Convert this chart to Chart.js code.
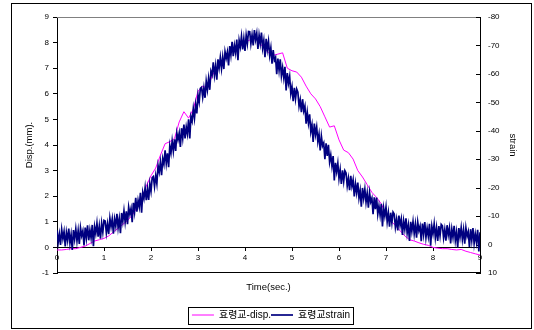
<!DOCTYPE html>
<html lang="ko">
<head>
<meta charset="UTF-8" />
<title>효령교 disp / strain</title>
<script src="https://cdn.jsdelivr.net/npm/chart.js@4.4.0/dist/chart.umd.min.js"></script>
<style>
  html, body { margin: 0; padding: 0; background: #fff; }
</style>
</head>
<body>
<canvas id="myChart" width="534" height="330"></canvas>
<script>
// displacement (mm), sampled every 0.1 s from 0 to 9 s
const DISP_DT = 0.1;
const dispValues = [
  -0.1, -0.1, -0.08, -0.05, -0.05, 0.0, 0.05, 0.15, 0.25, 0.3,
  0.35, 0.45, 0.6, 0.75, 0.9, 1.05, 1.25, 1.55, 1.9, 2.4,
  2.8, 3.1, 3.6, 4.05, 4.13, 4.25, 4.9, 5.3, 5.05, 5.4,
  6.1, 6.3, 6.2, 6.7, 7.0, 7.25, 7.4, 7.6, 7.75, 7.85,
  8.0, 8.1, 8.2, 8.0, 7.8, 7.6, 7.5, 7.55, 7.6, 7.0,
  6.9, 6.85, 6.65, 6.3, 6.0, 5.8, 5.5, 5.1, 4.7, 4.75,
  4.2, 3.8, 3.7, 3.45, 3.0, 2.75, 2.45, 2.15, 1.95, 1.7,
  1.3, 1.05, 0.85, 0.65, 0.45, 0.3, 0.25, 0.18, 0.12, 0.08,
  0.0, -0.03, -0.05, -0.05, -0.08, -0.1, -0.08, -0.15, -0.2, -0.25, -0.3
];

// strain, sampled every 0.025 s from 0 to 9 s (noisy gauge signal)
const STRAIN_DT = 0.025;
const strainValues = [
  -5.0, -0.7, -3.7, 0.1, -5.3, -2.1, -4.6, 0.7, -4.3, -1.5,
  -5.6, -0.5, -3.5, 1.9, -5.1, -1.9, -5.5, -1.3, -4.9, -0.2,
  -5.9, -3.1, -4.8, 0.3, -6.0, -2.3, -6.8, -1.5, -5.1, -2.3,
  -6.9, 0.6, -6.3, -3.9, -7.5, -2.8, -6.5, -2.1, -7.5, -4.3,
  -8.5, -8.3, -4.1, -7.3, -3.7, -9.3, -6.3, -9.0, -3.8, -9.0,
  -6.5, -10.8, -5.9, -9.1, -4.0, -11.1, -8.1, -11.9, -7.9, -11.7,
  -7.2, -13.2, -10.7, -12.7, -7.9, -14.7, -11.4, -16.4, -11.6, -15.5,
  -13.2, -18.2, -11.2, -18.3, -16.2, -20.0, -15.6, -19.6, -15.7, -21.4,
  -18.7, -23.5, -23.9, -20.4, -24.2, -21.4, -27.8, -25.5, -29.0, -24.4,
  -30.2, -28.2, -33.1, -28.5, -32.1, -27.2, -34.7, -32.2, -36.4, -32.8,
  -37.0, -32.9, -39.2, -36.9, -39.2, -34.3, -40.9, -37.4, -42.2, -37.3,
  -41.3, -38.9, -44.0, -37.3, -45.0, -43.4, -47.8, -44.4, -49.2, -46.1,
  -52.6, -50.1, -54.9, -55.3, -51.8, -55.1, -51.6, -57.4, -54.4, -58.4,
  -54.4, -60.9, -59.6, -64.1, -59.5, -62.9, -58.0, -65.1, -62.1, -65.8,
  -61.9, -65.9, -61.7, -67.8, -65.5, -67.7, -63.0, -69.8, -66.6, -71.3,
  -66.2, -70.0, -67.4, -72.1, -64.8, -71.8, -69.5, -73.2, -68.6, -72.4,
  -68.1, -73.6, -70.6, -74.9, -74.8, -70.6, -73.7, -70.0, -75.4, -72.0,
  -74.3, -68.8, -73.6, -70.6, -74.5, -69.1, -71.8, -65.9, -72.3, -68.5,
  -71.5, -66.5, -69.2, -63.6, -68.4, -64.8, -65.8, -59.9, -65.4, -61.2,
  -65.1, -59.3, -62.2, -58.6, -62.5, -54.2, -60.3, -56.7, -59.1, -53.1,
  -55.5, -50.4, -55.1, -51.2, -54.7, -53.6, -48.6, -50.9, -46.5, -51.1,
  -47.0, -48.7, -42.5, -46.5, -42.7, -45.8, -39.7, -42.1, -36.1, -42.5,
  -38.7, -41.3, -36.2, -38.8, -33.1, -38.1, -34.7, -35.7, -30.0, -35.6,
  -31.2, -35.1, -29.1, -31.5, -27.6, -31.1, -22.5, -28.7, -25.6, -28.6,
  -23.2, -26.3, -21.3, -26.1, -22.3, -26.0, -25.2, -20.6, -23.3, -19.1,
  -24.2, -20.5, -22.7, -16.9, -21.4, -18.2, -21.8, -16.4, -19.0, -13.3,
  -19.9, -16.3, -19.5, -14.9, -18.1, -13.0, -18.2, -15.0, -16.3, -10.7,
  -16.6, -12.4, -16.5, -10.7, -13.6, -10.3, -14.3, -6.4, -12.8, -10.0,
  -13.2, -8.0, -11.2, -6.3, -11.2, -7.6, -11.4, -10.7, -6.1, -8.9,
  -5.0, -10.2, -6.7, -9.0, -3.4, -8.3, -5.3, -9.2, -4.0, -6.8,
  -1.3, -8.0, -4.7, -8.1, -3.8, -7.2, -2.4, -7.9, -4.9, -6.5,
  -1.2, -7.4, -3.6, -7.9, -2.5, -5.8, -2.9, -7.3, 0.4, -6.4,
  -3.8, -7.3, -2.4, -5.9, -1.3, -6.5, -3.1, -7.1, -6.6, -2.3,
  -5.3, -1.4, -6.8, -3.4, -5.9, -0.4, -5.4, -2.5, -6.6, -1.4,
  -4.4, 1.0, -5.8, -2.6, -6.0, -1.8, -5.2, -0.3, -5.9, -2.9,
  -4.5, 0.8, -5.4, -1.5, -5.8, -0.4, -3.7, -0.8, -5.2, 2.4,
  -4.3
];

const seriesLabels = ['효령교-disp.', '효령교strain'];
const timeRange = [0, 9];
const dispRange = [-1, 9];
const strainRange = [-80, 10];

const FONT = '"Liberation Sans", Arial, "Noto Sans CJK KR", sans-serif';

// outer box, plot frame, legend box and the inward ticks of the strain axis
const framePlugin = {
  id: 'frame',
  beforeDraw(chart) {
    const ctx = chart.ctx;
    ctx.save();
    ctx.fillStyle = '#fff';
    ctx.fillRect(0, 0, chart.width, chart.height);
    ctx.strokeStyle = '#000';
    ctx.lineWidth = 1;
    ctx.strokeRect(11.5, 3.5, 520, 325);
    ctx.restore();
  },
  beforeDatasetsDraw(chart) {
    const ctx = chart.ctx;
    const a = chart.chartArea;
    ctx.save();
    ctx.lineWidth = 1;
    ctx.strokeStyle = '#808080';
    ctx.beginPath();
    ctx.moveTo(a.left, Math.round(a.top) + 0.5);
    ctx.lineTo(a.right, Math.round(a.top) + 0.5);
    ctx.stroke();
    ctx.strokeStyle = '#000';
    ctx.beginPath();
    ctx.moveTo(a.left, Math.round(a.bottom) - 0.5);
    ctx.lineTo(a.right, Math.round(a.bottom) - 0.5);
    ctx.stroke();
    // strain axis ticks point into the plot
    const y2 = chart.scales.y2;
    ctx.beginPath();
    y2.ticks.forEach(t => {
      const py = Math.round(y2.getPixelForValue(t.value)) + 0.5;
      ctx.moveTo(a.right - 4, py);
      ctx.lineTo(a.right, py);
    });
    ctx.stroke();
    ctx.restore();
  },
  afterDraw(chart) {
    const boxes = chart.legend.legendHitBoxes;
    if (!boxes || !boxes.length) return;
    const l = Math.min(...boxes.map(b => b.left)) - 4;
    const r = Math.max(...boxes.map(b => b.left + b.width)) + 3;
    const t = Math.min(...boxes.map(b => b.top)) - 3;
    const b = Math.max(...boxes.map(b => b.top + b.height)) + 4;
    const ctx = chart.ctx;
    ctx.save();
    ctx.strokeStyle = '#000';
    ctx.lineWidth = 1;
    ctx.strokeRect(Math.round(l) + 0.5, Math.round(t) + 0.5, Math.round(r - l), Math.round(b - t));
    ctx.restore();
  }
};

const ctx = document.getElementById('myChart').getContext('2d');
const myChart = new Chart(ctx, {
  type: 'line',
  data: {
    datasets: [
      {
        label: seriesLabels[0],
        data: dispValues.map((v, i) => ({ x: i * DISP_DT, y: v })),
        yAxisID: 'y',
        borderColor: '#ff00ff',
        backgroundColor: '#ff00ff',
        borderWidth: 1,
        pointRadius: 0,
        order: 2
      },
      {
        label: seriesLabels[1],
        data: strainValues.map((v, i) => ({ x: i * STRAIN_DT, y: v })),
        yAxisID: 'y2',
        borderColor: '#000080',
        backgroundColor: '#000080',
        borderWidth: 1.7,
        pointRadius: 0,
        order: 1
      }
    ]
  },
  options: {
    responsive: false,
    animation: false,
    layout: { padding: { left: 24, right: 16, top: 17, bottom: 0 } },
    plugins: {
      tooltip: { enabled: false },
      legend: {
        position: 'bottom',
        labels: {
          font: { family: FONT, size: 10 },
          color: '#000',
          usePointStyle: true,
          pointStyle: 'line',
          pointStyleWidth: 22,
          boxHeight: 9,
          padding: 0,
          sort: (a, b) => a.datasetIndex - b.datasetIndex
        }
      }
    },
    scales: {
      x: {
        type: 'linear',
        min: timeRange[0],
        max: timeRange[1],
        grid: { display: false },
        border: { display: false },
        ticks: { display: false },
        title: {
          display: true,
          text: 'Time(sec.)',
          color: '#000',
          font: { family: FONT, size: 9.5 },
          padding: { top: 0, bottom: 17 }
        },
        afterFit(scale) { scale.height = 37; }
      },
      // time axis drawn across the zero line
      xz: {
        type: 'linear',
        position: { y: 0 },
        min: timeRange[0],
        max: timeRange[1],
        grid: { drawOnChartArea: false, tickLength: 3, color: '#000' },
        border: { color: '#000' },
        ticks: { stepSize: 1, padding: 3, color: '#000', font: { family: FONT, size: 8 } }
      },
      y: {
        type: 'linear',
        position: 'left',
        min: dispRange[0],
        max: dispRange[1],
        grid: { drawOnChartArea: false, tickLength: 4, color: '#000' },
        border: { color: '#000' },
        ticks: { stepSize: 1, padding: 4, color: '#000', font: { family: FONT, size: 8 } },
        title: {
          display: true,
          text: 'Disp.(mm).',
          color: '#000',
          font: { family: FONT, size: 9.5 },
          padding: 0
        },
        afterFit(scale) { scale.width = 33; }
      },
      y2: {
        type: 'linear',
        position: 'right',
        reverse: true,
        min: strainRange[0],
        max: strainRange[1],
        grid: { drawOnChartArea: false, drawTicks: false },
        border: { color: '#000' },
        ticks: { stepSize: 10, padding: 8, color: '#000', font: { family: FONT, size: 8 } },
        title: {
          display: true,
          text: 'strain',
          color: '#000',
          font: { family: FONT, size: 9.5 },
          padding: 0
        },
        afterFit(scale) { scale.width = 38; }
      }
    }
  },
  plugins: [framePlugin]
});
</script>
</body>
</html>
